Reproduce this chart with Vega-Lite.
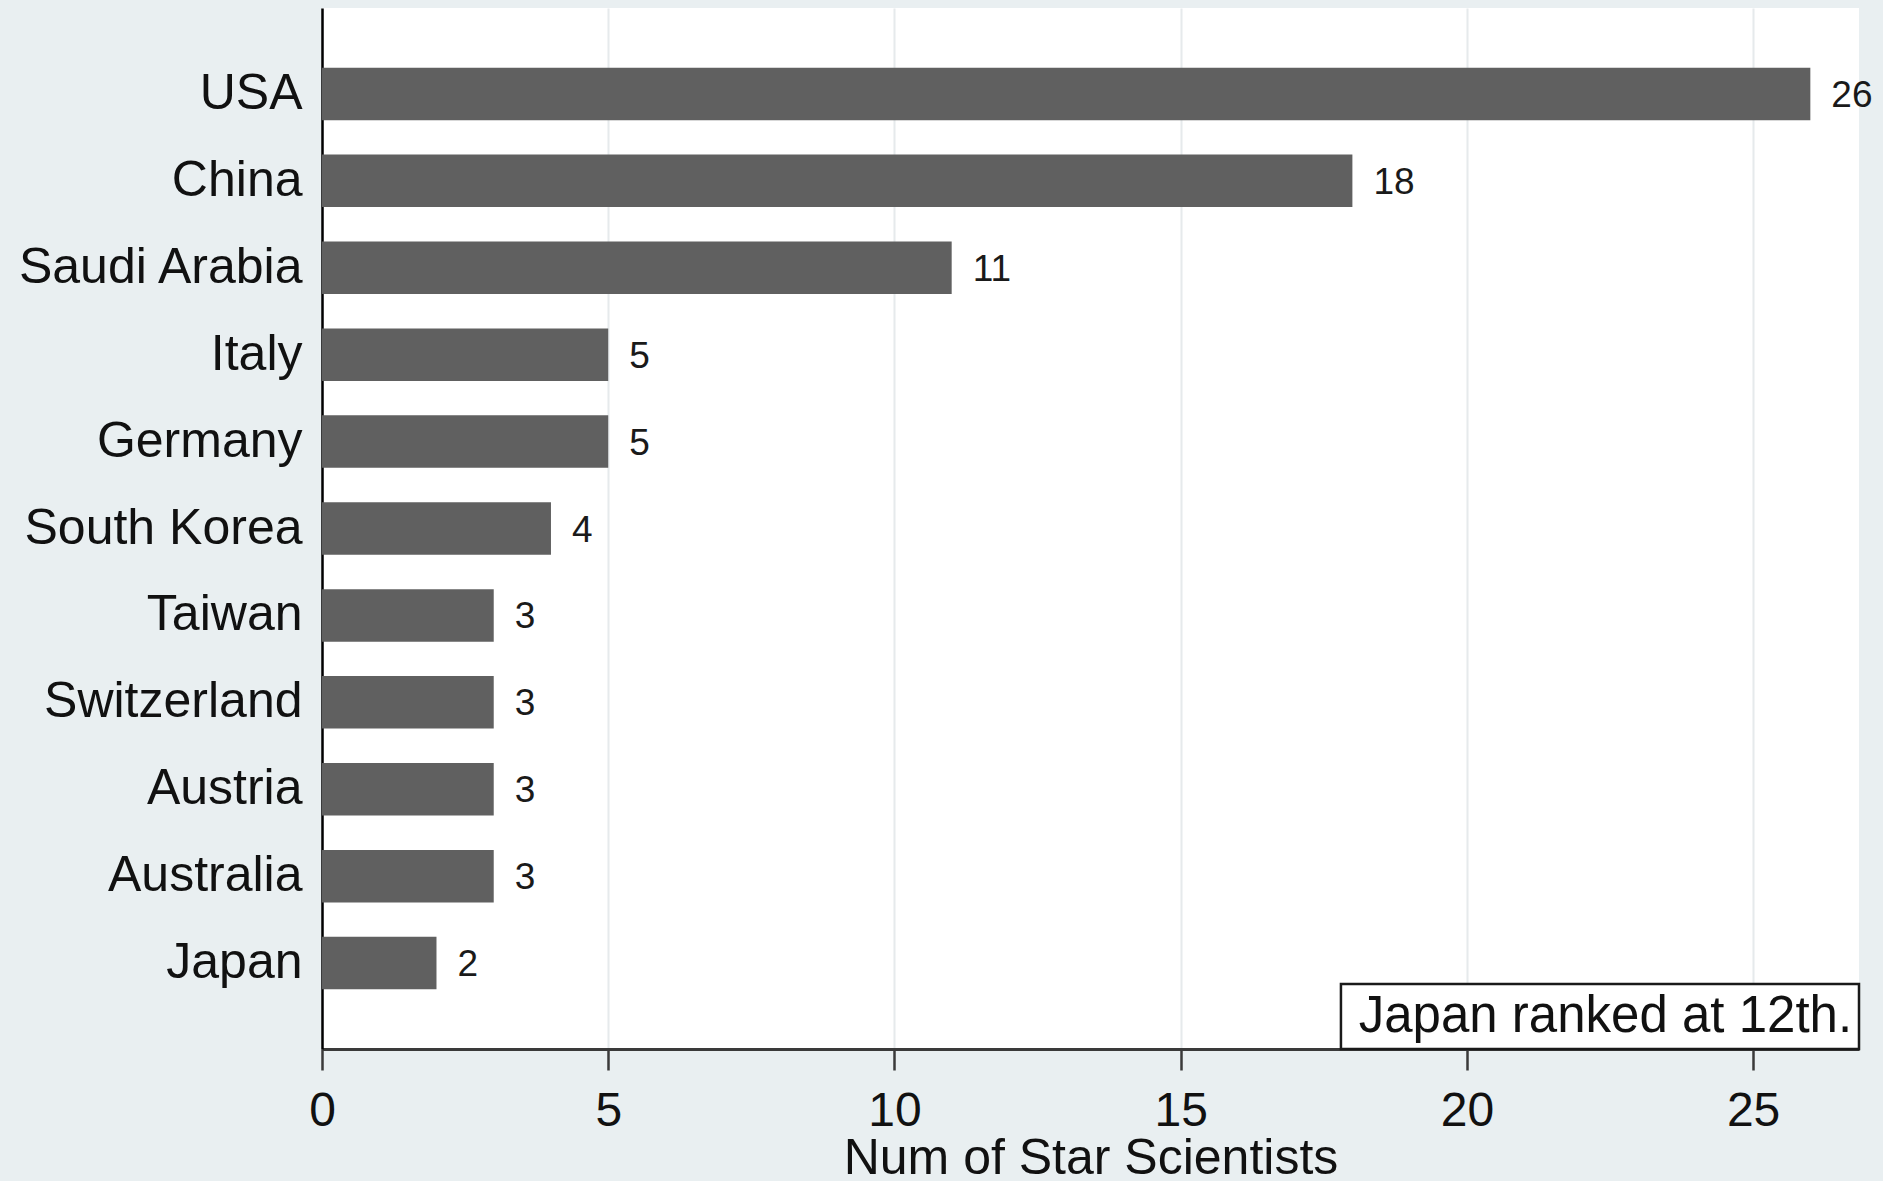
{
  "$schema": "https://vega.github.io/schema/vega-lite/v6.json",
  "autosize": {"type": "none"},
  "padding": {"left": 322, "top": 8, "right": 24, "bottom": 132},
  "width": 1537,
  "height": 1041,
  "background": "#e9eff1",
  "config": {"view": {"fill": "#ffffff", "stroke": null}, "font": "Liberation Sans"},
  "layer": [
    {
      "data": {"values": [
        {"country": "USA", "n": 26},
        {"country": "China", "n": 18},
        {"country": "Saudi Arabia", "n": 11},
        {"country": "Italy", "n": 5},
        {"country": "Germany", "n": 5},
        {"country": "South Korea", "n": 4},
        {"country": "Taiwan", "n": 3},
        {"country": "Switzerland", "n": 3},
        {"country": "Austria", "n": 3},
        {"country": "Australia", "n": 3},
        {"country": "Japan", "n": 2}
      ]},
      "encoding": {
        "y": {"field": "country", "type": "nominal", "sort": null,
          "scale": {"paddingInner": 0.396, "paddingOuter": 0.687},
          "axis": {"title": null, "domainColor": "#000000", "domainWidth": 2.5, "ticks": false, "tickSize": 0,
            "labelFontSize": 50, "labelPadding": 20, "labelLimit": 0, "labelColor": "#111111", "grid": false}},
        "x": {"field": "n", "type": "quantitative",
          "scale": {"domain": [0, 26.85], "nice": false, "zero": true},
          "axis": {"title": "Num of Star Scientists", "values": [0, 5, 10, 15, 20, 25], "format": "d", "grid": true,
            "gridColor": "#e6eaec", "gridWidth": 2, "domainColor": "#3a3a3a", "domainWidth": 3,
            "tickColor": "#3a3a3a", "tickWidth": 2.5, "tickSize": 21, "labelFontSize": 48,
            "labelColor": "#111111", "labelPadding": 17, "labelFlush": false, "titleFontSize": 50,
            "titleFontWeight": "normal", "titleColor": "#111111", "titlePadding": -2}}
      },
      "layer": [
        {"mark": {"type": "bar", "color": "#606060"}},
        {"mark": {"type": "text", "align": "left", "baseline": "middle", "dx": 21, "dy": 2, "fontSize": 37, "color": "#1a1a1a"},
          "encoding": {"text": {"field": "n", "type": "quantitative"}}}
      ]
    },
    {
      "data": {"values": [
        {"x": 17.8, "x2": 26.85, "y": 0, "y2": 0.0624, "label": "Japan ranked at 12th.", "tx": 22.42, "ty": 0.031}
      ]},
      "layer": [
        {"mark": {"type": "rect", "fill": "#ffffff", "stroke": "#1a1a1a", "strokeWidth": 2.5},
          "encoding": {
            "x": {"field": "x", "type": "quantitative", "scale": {"domain": [0, 26.85], "nice": false}},
            "x2": {"field": "x2"},
            "y": {"field": "y", "type": "quantitative", "scale": {"domain": [0, 1], "nice": false}, "axis": null},
            "y2": {"field": "y2"}
          }},
        {"mark": {"type": "text", "align": "center", "baseline": "middle", "fontSize": 51, "color": "#111111"},
          "encoding": {
            "x": {"field": "tx", "type": "quantitative"},
            "y": {"field": "ty", "type": "quantitative", "axis": null},
            "text": {"field": "label"}
          }}
      ]
    }
  ],
  "resolve": {"scale": {"y": "independent"}}
}
